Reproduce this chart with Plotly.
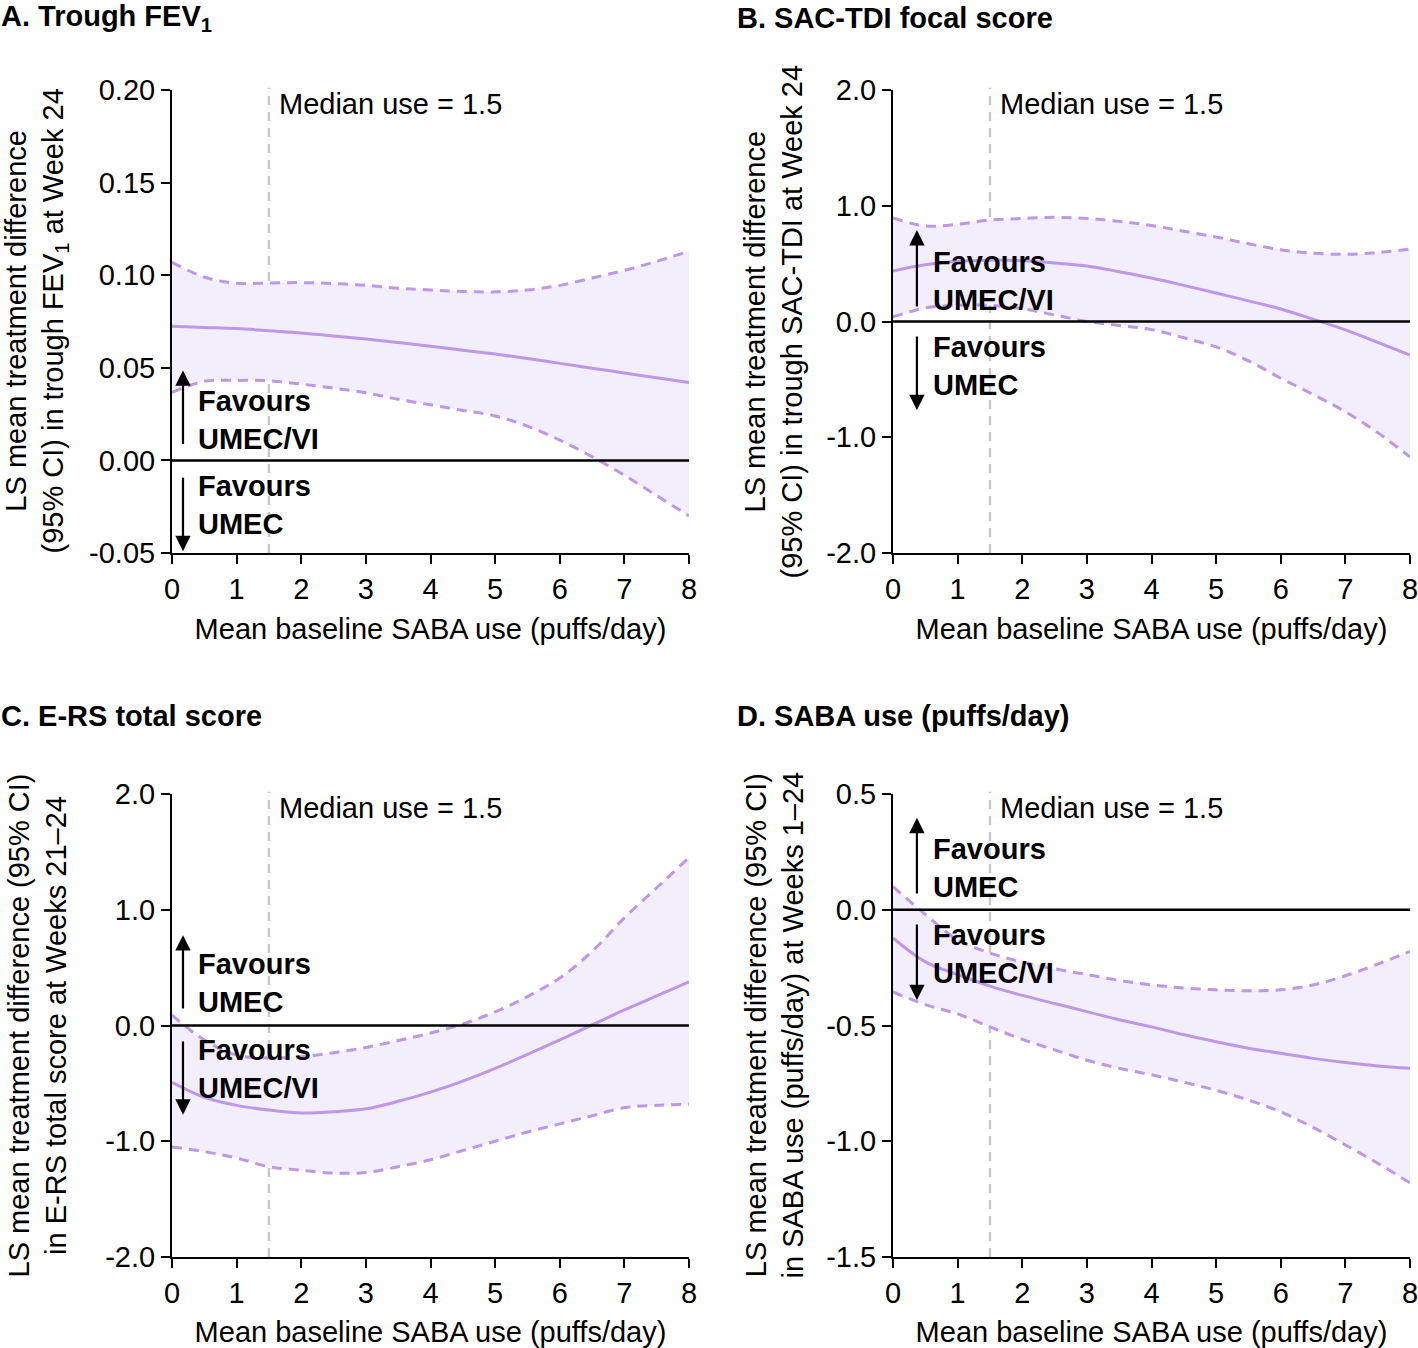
import plotly.graph_objects as go

# ---------------- data ----------------
x_vals = [0, 0.5, 1, 1.5, 2, 2.5, 3, 3.5, 4, 4.5, 5, 5.5, 6, 6.5, 7, 7.5, 8]

# Panel A: Trough FEV1
a_mean  = [0.0724, 0.0718, 0.0712, 0.0700, 0.0688, 0.0672, 0.0655, 0.0636, 0.0616, 0.0595, 0.0574, 0.0550, 0.0524, 0.0498, 0.0472, 0.0446, 0.0420]
a_upper = [0.1070, 0.0990, 0.0956, 0.0958, 0.0960, 0.0955, 0.0945, 0.0930, 0.0920, 0.0912, 0.0910, 0.0920, 0.0945, 0.0985, 0.1026, 0.1075, 0.1130]
a_lower = [0.0367, 0.0427, 0.0432, 0.0430, 0.0412, 0.0390, 0.0365, 0.0330, 0.0300, 0.0270, 0.0240, 0.0185, 0.0110, 0.0020, -0.0080, -0.0190, -0.0300]

# Panel B: SAC-TDI focal score
b_mean  = [0.436, 0.490, 0.520, 0.530, 0.525, 0.505, 0.480, 0.430, 0.375, 0.312, 0.246, 0.178, 0.108, 0.020, -0.073, -0.180, -0.290]
b_upper = [0.894, 0.825, 0.840, 0.877, 0.890, 0.900, 0.890, 0.865, 0.830, 0.780, 0.730, 0.672, 0.620, 0.590, 0.580, 0.595, 0.626]
b_lower = [0.040, 0.117, 0.140, 0.140, 0.110, 0.056, 0.000, -0.035, -0.070, -0.140, -0.220, -0.340, -0.490, -0.630, -0.780, -0.960, -1.170]

# Panel C: E-RS total score
c_mean  = [-0.490, -0.620, -0.690, -0.730, -0.756, -0.745, -0.720, -0.655, -0.575, -0.480, -0.370, -0.250, -0.125, 0.005, 0.134, 0.255, 0.376]
c_upper = [0.090, -0.125, -0.255, -0.280, -0.270, -0.235, -0.190, -0.130, -0.065, 0.013, 0.117, 0.250, 0.410, 0.640, 0.930, 1.190, 1.450]
c_lower = [-1.050, -1.090, -1.145, -1.220, -1.250, -1.275, -1.270, -1.220, -1.160, -1.080, -1.000, -0.920, -0.850, -0.780, -0.710, -0.690, -0.680]

# Panel D: SABA use (puffs/day)
d_mean  = [-0.122, -0.225, -0.280, -0.330, -0.370, -0.405, -0.440, -0.475, -0.506, -0.540, -0.570, -0.598, -0.620, -0.642, -0.660, -0.675, -0.685]
d_upper = [0.100, -0.020, -0.130, -0.187, -0.226, -0.255, -0.280, -0.305, -0.325, -0.338, -0.346, -0.350, -0.346, -0.325, -0.285, -0.235, -0.180]
d_lower = [-0.355, -0.410, -0.450, -0.506, -0.560, -0.605, -0.650, -0.685, -0.713, -0.745, -0.780, -0.822, -0.873, -0.940, -1.016, -1.095, -1.180]

x_ticks = [0, 1, 2, 3, 4, 5, 6, 7, 8]
x_ticktext = ["0", "1", "2", "3", "4", "5", "6", "7", "8"]

a_yticks = [-0.05, 0.0, 0.05, 0.10, 0.15, 0.20]
a_yticktext = ["-0.05", "0.00", "0.05", "0.10", "0.15", "0.20"]
bc_yticks = [-2, -1, 0, 1, 2]
bc_yticktext = ["-2.0", "-1.0", "0.0", "1.0", "2.0"]
d_yticks = [-1.5, -1.0, -0.5, 0.0, 0.5]
d_yticktext = ["-1.5", "-1.0", "-0.5", "0.0", "0.5"]

median_use = 1.5

panel_titles = ["A. Trough FEV<sub>1</sub>", "B. SAC-TDI focal score",
                "C. E-RS total score", "D. SABA use (puffs/day)"]
y_titles = [
    "LS mean treatment difference<br>(95% CI) in trough FEV<sub>1</sub> at Week 24",
    "LS mean treatment difference<br>(95% CI) in trough SAC-TDI at Week 24",
    "LS mean treatment difference (95% CI)<br>in E-RS total score at Weeks 21\u201324",
    "LS mean treatment difference (95% CI)<br>in SABA use (puffs/day) at Weeks 1\u201324",
]
x_title = "Mean baseline SABA use (puffs/day)"
median_label = "Median use = 1.5"

# ---------------- styling ----------------
W, H = 1418, 1348
FONT = "Liberation Sans, Arial, Helvetica, sans-serif"
FS = 29
LINE_C = "#bb99e6"
FILL_C = "#f3eefc"

def px_x(p):
    return min(1.0, max(0.0, p / W))

def px_y(p):
    return min(1.0, max(0.0, 1 - p / H))

# plot area pixel boxes in screen coords (left, right, top, bottom)
boxes = [(172, 689, 90, 553), (893, 1410, 90, 553),
         (172, 689, 794, 1257), (893, 1410, 794, 1257)]

fig = go.Figure()

panels = [
    (a_mean, a_upper, a_lower, [-0.05, 0.20], a_yticks, a_yticktext),
    (b_mean, b_upper, b_lower, [-2, 2], bc_yticks, bc_yticktext),
    (c_mean, c_upper, c_lower, [-2, 2], bc_yticks, bc_yticktext),
    (d_mean, d_upper, d_lower, [-1.5, 0.5], d_yticks, d_yticktext),
]

arrow_cfg = [
    (0.17, 0.0081, 0.0486, -0.0086, -0.049, 0.37, 0.0219, "Favours<br>UMEC/VI", -0.0243, "Favours<br>UMEC"),
    (0.37, 0.117, 0.79, -0.117, -0.765, 0.59, 0.354, "Favours<br>UMEC/VI", -0.384, "Favours<br>UMEC"),
    (0.17, 0.134, 0.78, -0.125, -0.77, 0.37, 0.367, "Favours<br>UMEC", -0.376, "Favours<br>UMEC/VI"),
    (0.37, 0.064, 0.397, -0.057, -0.39, 0.59, 0.180, "Favours<br>UMEC", -0.191, "Favours<br>UMEC/VI"),
]

title_pos = [(0, 18), (740, 18), (0, 716), (740, 716)]
ytitle_x = [37, 774, 37, 774]

annotations = []
shapes = []

for i, (mean, upper, lower, yr, yt, ytt) in enumerate(panels):
    n = "" if i == 0 else str(i + 1)
    xa, ya = "x" + n, "y" + n
    fig.add_trace(go.Scatter(x=x_vals, y=upper, mode="lines", line=dict(width=0, shape="spline", color=LINE_C),
                             xaxis=xa, yaxis=ya, showlegend=False, hoverinfo="skip"))
    fig.add_trace(go.Scatter(x=x_vals, y=lower, mode="lines", line=dict(width=0, shape="spline", color=LINE_C),
                             fill="tonexty", fillcolor=FILL_C,
                             xaxis=xa, yaxis=ya, showlegend=False, hoverinfo="skip"))
    for ci in (upper, lower):
        fig.add_trace(go.Scatter(x=x_vals, y=ci, mode="lines",
                                 line=dict(color=LINE_C, width=3, dash="10px,7px", shape="spline"),
                                 xaxis=xa, yaxis=ya, showlegend=False))
    fig.add_trace(go.Scatter(x=x_vals, y=mean, mode="lines",
                             line=dict(color=LINE_C, width=3, shape="spline"),
                             xaxis=xa, yaxis=ya, showlegend=False))

    l, r, t, b = boxes[i]
    axis_common = dict(showline=True, linecolor="black", linewidth=2, ticks="outside",
                       ticklen=9, tickwidth=2, tickcolor="black", showgrid=False, zeroline=False,
                       automargin=False, ticklabeloverflow="allow",
                       tickfont=dict(family=FONT, size=FS, color="black"))
    fig.layout["xaxis" + n] = dict(domain=[px_x(l), px_x(r)], range=[0, 8], anchor=ya,
                                   tickvals=x_ticks, ticktext=x_ticktext,
                                   title=dict(text=x_title, font=dict(family=FONT, size=FS, color="black"), standoff=15),
                                   **axis_common)
    fig.layout["yaxis" + n] = dict(domain=[px_y(b), px_y(t)], range=yr, anchor=xa,
                                   tickvals=yt, ticktext=ytt, **axis_common)

    shapes.append(dict(type="line", xref=xa, yref=ya, x0=0, x1=8, y0=0, y1=0,
                       line=dict(color="black", width=2.5), layer="above"))
    shapes.append(dict(type="line", xref=xa, yref=ya + " domain", x0=median_use, x1=median_use, y0=0, y1=1.005,
                       line=dict(color="#c8c8c8", width=2.5, dash="9px,7px"), layer="below"))
    annotations.append(dict(xref=xa, yref=ya + " domain", x=median_use, y=1, xanchor="left", yanchor="top",
                            xshift=8, yshift=4, text=median_label, showarrow=False,
                            font=dict(family=FONT, size=FS, color="black")))

    ax_x, ut, utp, dt, dtp, tx, uty, utext, dty, dtext = arrow_cfg[i]
    for tail, tip in ((ut, utp), (dt, dtp)):
        annotations.append(dict(xref=xa, yref=ya, axref=xa, ayref=ya, x=ax_x, y=tip, ax=ax_x, ay=tail,
                                text="", showarrow=True, arrowhead=2, arrowsize=1.4, arrowwidth=2.2,
                                arrowcolor="black"))
    for ty, tt in ((uty, utext), (dty, dtext)):
        annotations.append(dict(xref=xa, yref=ya, x=tx, y=ty, xanchor="left", yanchor="middle", align="left",
                                text="<b>" + tt + "</b>", showarrow=False,
                                font=dict(family=FONT, size=FS, color="black")))

    tx0, ty0 = title_pos[i]
    annotations.append(dict(xref="paper", yref="paper", x=px_x(tx0), y=px_y(ty0), xanchor="left", yanchor="middle",
                            xshift=-4 if tx0 > 0 else 0, borderpad=0,
                            text="<b>" + panel_titles[i] + "</b>", showarrow=False,
                            font=dict(family=FONT, size=FS, color="black")))
    annotations.append(dict(xref="paper", yref="paper", x=px_x(ytitle_x[i]), y=px_y((t + b) / 2),
                            xanchor="center", yanchor="middle", textangle=-90,
                            text=y_titles[i], showarrow=False,
                            font=dict(family=FONT, size=FS, color="black")))

fig.update_layout(width=W, height=H, margin=dict(l=0, r=0, t=0, b=0, autoexpand=False),
                  plot_bgcolor="white", paper_bgcolor="white",
                  annotations=annotations, shapes=shapes,
                  font=dict(family=FONT, size=FS, color="black"))

# remove the default page margin so the figure fills the window exactly
fig.write_html("out.html", config={"displayModeBar": False},
               post_script="document.body.style.margin='0px';document.body.style.overflow='hidden';")
